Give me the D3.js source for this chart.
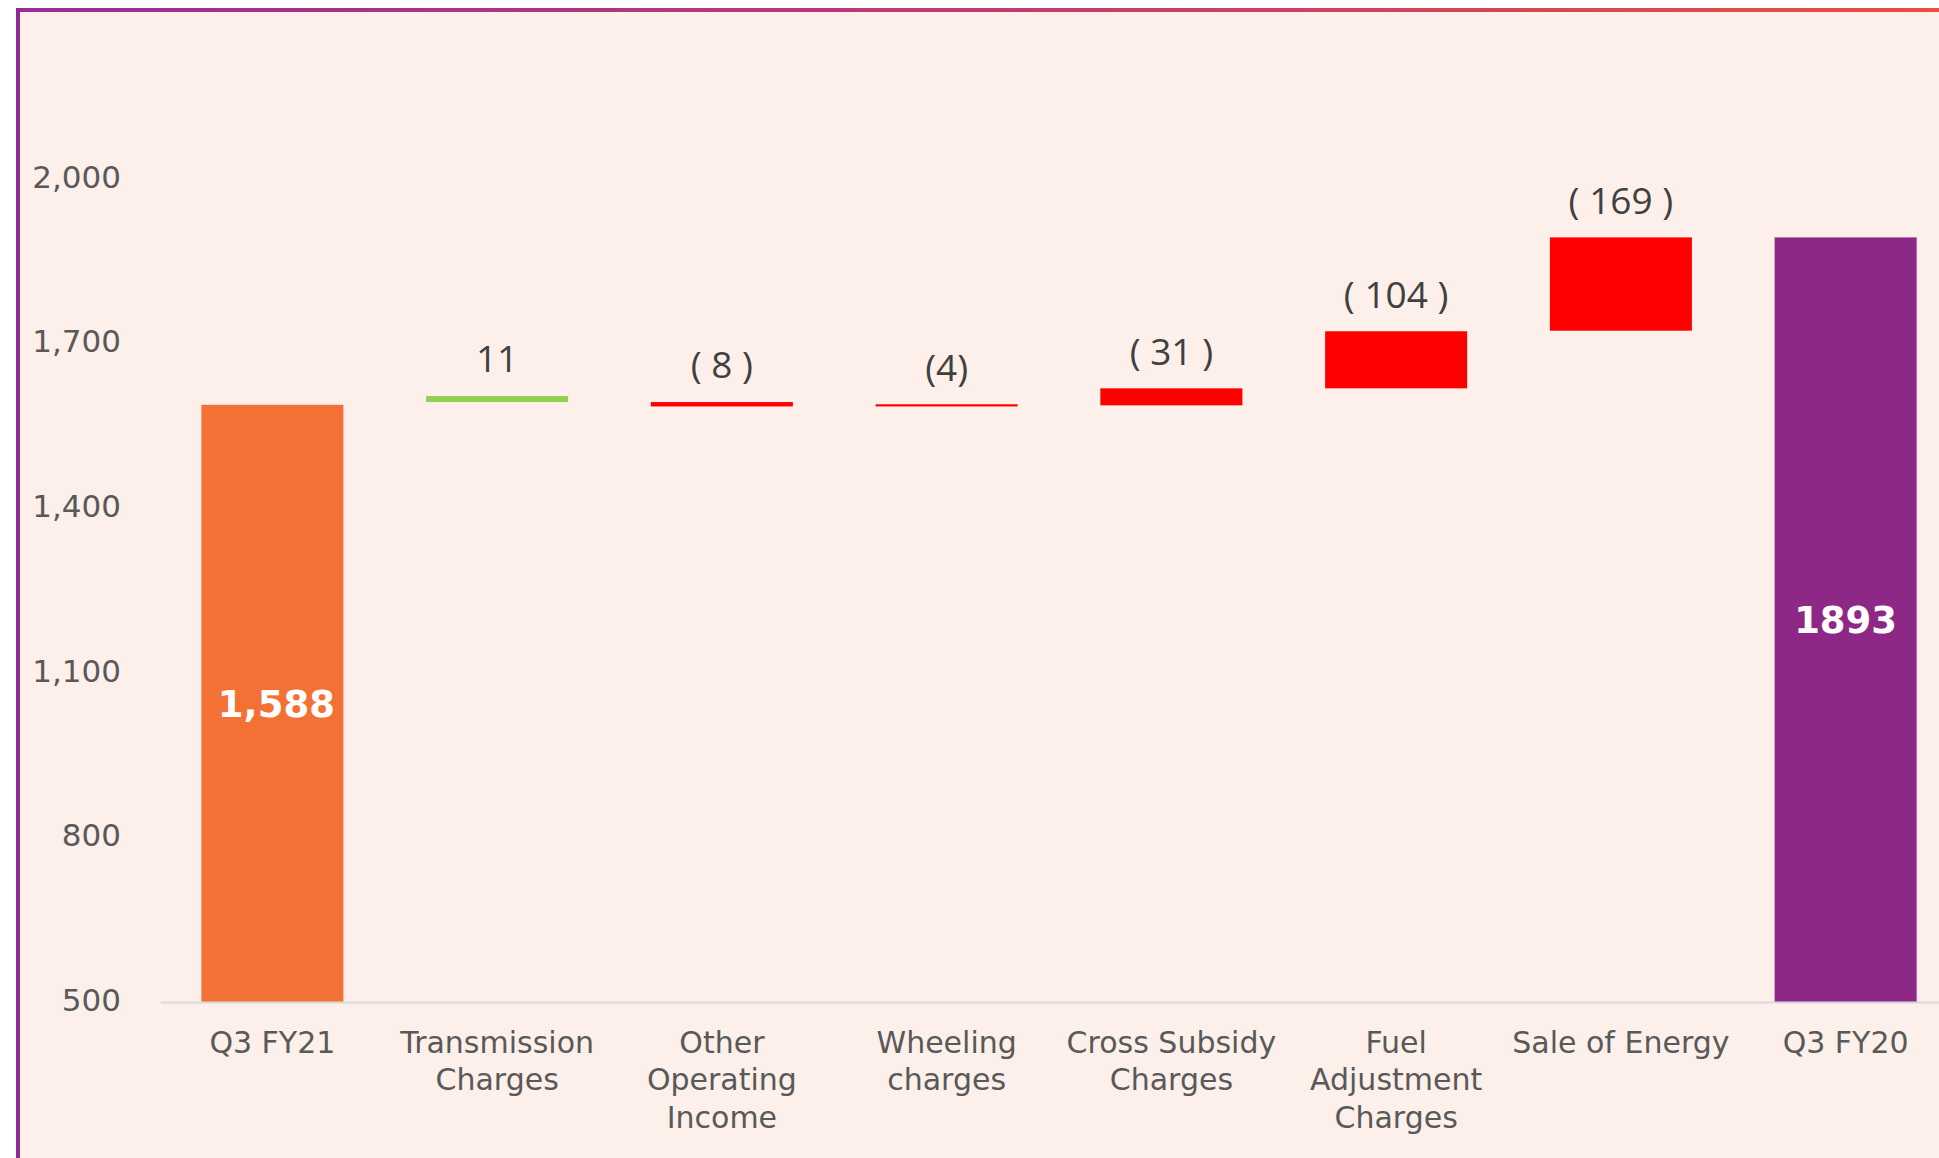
<!DOCTYPE html>
<html>
<head>
<meta charset="utf-8">
<script src="https://cdn.jsdelivr.net/npm/d3@7"></script>
<style>
  html, body { margin: 0; padding: 0; background: #ffffff; }
  svg { display: block; }
</style>
</head>
<body>
<svg id="chart" width="1939" height="1158"></svg>
<script>
// ---- data ----
const categories = ["Q3 FY21", "Transmission Charges", "Other Operating Income", "Wheeling charges",
                    "Cross Subsidy Charges", "Fuel Adjustment Charges", "Sale of Energy", "Q3 FY20"];
const barKinds   = ["start", "up", "down", "down", "down", "down", "down", "end"];
const barStart   = [null, 1593, 1585, 1585, 1587, 1618, 1723, null];   // null = drawn from axis
const barEnd     = [1588, 1604, 1593, 1589, 1618, 1722, 1893, 1893];
const valueLabels = ["1,588", "11", "( 8 )", "(4)", "( 31 )", "( 104 )", "( 169 )", "1893"];
const yTicks     = [500, 800, 1100, 1400, 1700, 2000];
const yDomain    = [500, 2300];

// ---- styles ----
const kindColor = { start: "#F37134", up: "#92D050", down: "#FF0000", end: "#8E2886" };
const W = 1939, H = 1158;

const svg = d3.select("#chart");
const defs = svg.append("defs");
const grad = defs.append("linearGradient").attr("id", "topGrad")
  .attr("x1", "0%").attr("x2", "100%").attr("y1", "0%").attr("y2", "0%");
grad.append("stop").attr("offset", "0%").attr("stop-color", "#9A2C98");
grad.append("stop").attr("offset", "55%").attr("stop-color", "#C23D6E");
grad.append("stop").attr("offset", "100%").attr("stop-color", "#EA4E3E");

// background panel + border
svg.append("rect").attr("x", 20).attr("y", 12).attr("width", W - 20).attr("height", H - 12)
  .attr("fill", "#FDF0EB");
svg.append("rect").attr("x", 16).attr("y", 8).attr("width", W - 16).attr("height", 4)
  .attr("fill", "url(#topGrad)");
svg.append("rect").attr("x", 16).attr("y", 8).attr("width", 4).attr("height", H - 8)
  .attr("fill", "#8E2A92");

// scales
const x = d3.scaleBand().domain(categories).range([160, 1958])
  .paddingInner(0.368).paddingOuter(0.184);
const y = d3.scaleLinear().domain(yDomain).range([1002, 14]);

// y axis (labels only)
const yAxis = svg.append("g").attr("transform", "translate(121,0)")
  .call(d3.axisLeft(y).tickValues(yTicks).tickFormat(d3.format(",")).tickSize(0).tickPadding(0));
yAxis.select(".domain").remove();
yAxis.selectAll("text")
  .attr("font-family", "DejaVu Sans").attr("font-size", 31).attr("fill", "#595959")
  .attr("dy", "0.27em");

// bars
const rows = categories.map((c, i) => ({
  cat: c, kind: barKinds[i],
  lo: barStart[i] === null ? yDomain[0] : barStart[i],
  hi: barEnd[i], label: valueLabels[i]
}));

svg.append("g").selectAll("rect").data(rows).join("rect")
  .attr("x", d => x(d.cat))
  .attr("width", x.bandwidth())
  .attr("y", d => y(Math.max(d.lo, d.hi)))
  .attr("height", d => Math.abs(y(d.lo) - y(d.hi)))
  .attr("fill", d => kindColor[d.kind]);

// x axis
const xAxis = svg.append("g").attr("transform", "translate(0,1002)")
  .call(d3.axisBottom(x).tickSize(0).tickSizeOuter(0).tickPadding(0));
xAxis.select(".domain").attr("stroke", "#D9D9D9").attr("stroke-width", 2);
xAxis.selectAll(".tick text").each(function (d) {
  const t = d3.select(this);
  t.text(null).attr("font-family", "DejaVu Sans").attr("font-size", 30)
    .attr("fill", "#595959").attr("y", 0).attr("dy", null);
  const words = d.split(" ");
  const maxW = x.step() - 2;
  let lines = [], cur = [];
  const probe = t.append("tspan");
  words.forEach(w => {
    const test = cur.concat([w]).join(" ");
    probe.text(test);
    if (probe.node().getComputedTextLength() > maxW && cur.length) {
      lines.push(cur.join(" ")); cur = [w];
    } else cur.push(w);
  });
  lines.push(cur.join(" "));
  probe.remove();
  lines.forEach((ln, k) => {
    t.append("tspan").attr("x", 0).attr("y", 40 + k * 37.5).attr("dy", "0.35em").text(ln);
  });
});

// value labels
const lbl = svg.append("g");
rows.forEach(d => {
  const cx = x(d.cat) + x.bandwidth() / 2;
  if (d.kind === "start" || d.kind === "end") {
    lbl.append("text").attr("x", cx + (d.kind === "start" ? 4 : 0)).attr("y", (y(d.lo) + y(d.hi)) / 2)
      .attr("dy", "0.36em").attr("text-anchor", "middle")
      .attr("font-family", "DejaVu Sans").attr("font-weight", "bold").attr("font-size", 37)
      .attr("fill", "#ffffff").text(d.label);
  } else {
    lbl.append("text").attr("x", cx).attr("y", y(Math.max(d.lo, d.hi)) - 37)
      .attr("dy", "0.36em").attr("text-anchor", "middle")
      .attr("font-family", "Open Sans").attr("font-size", 37)
      .attr("fill", "#404040").text(d.label);
  }
});
</script>
</body>
</html>
